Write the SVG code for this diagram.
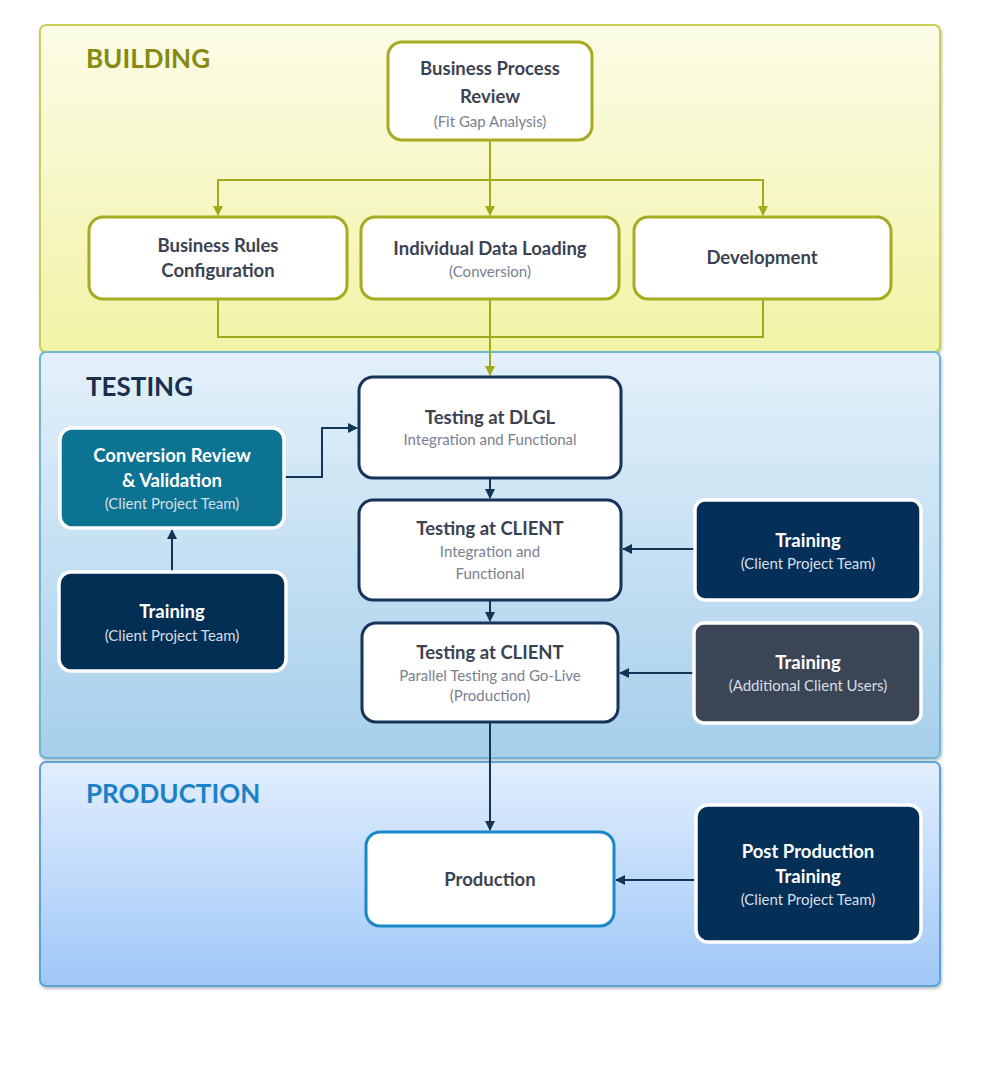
<svg xmlns="http://www.w3.org/2000/svg" width="1000" height="1070" viewBox="0 0 1000 1070">
<defs>
<linearGradient id="gB" x1="0" y1="0" x2="0" y2="1"><stop offset="0" stop-color="#fbfce6"/><stop offset="1" stop-color="#f1f3a6"/></linearGradient>
<linearGradient id="gT" x1="0" y1="0" x2="0" y2="1"><stop offset="0" stop-color="#e4f1fa"/><stop offset="1" stop-color="#a6cfeb"/></linearGradient>
<linearGradient id="gP" x1="0" y1="0" x2="0" y2="1"><stop offset="0" stop-color="#e2eefe"/><stop offset="1" stop-color="#9fc7f7"/></linearGradient>
<marker id="aO" viewBox="0 0 10 10" refX="9" refY="5" markerWidth="5" markerHeight="5" orient="auto"><path d="M0,0 L10,5 L0,10 z" fill="#a4a91c"/></marker>
<marker id="aN" viewBox="0 0 10 10" refX="9" refY="5" markerWidth="5" markerHeight="5" orient="auto"><path d="M0,0 L10,5 L0,10 z" fill="#123456"/></marker>
<filter id="sh" x="-5%" y="-5%" width="110%" height="115%"><feDropShadow dx="1" dy="2" stdDeviation="1.5" flood-color="#000" flood-opacity="0.25"/></filter>
</defs>
<style>
text{font-family:Lato,"Liberation Sans",sans-serif;text-anchor:middle}
.ttl{font-size:18.5px;font-weight:bold;fill:#3b4352}
.sub{font-size:15px;fill:#7a8090}
.wt{font-size:18.5px;font-weight:bold;fill:#ffffff}
.ws{font-size:15px;fill:#d8dfe8}
.hd{font-size:26px;font-weight:bold;text-anchor:start}
.nO{fill:#ffffff;stroke:#a6ab1f;stroke-width:3}
.nN{fill:#ffffff;stroke:#17335a;stroke-width:3}
.nD{stroke:#ffffff;stroke-width:3.5}
.cO{fill:none;stroke:#a4a91c;stroke-width:2}
.cN{fill:none;stroke:#123456;stroke-width:2}
</style>
<rect width="1000" height="1070" fill="#ffffff"/>
<g id="panels">
<rect x="40" y="25" width="900" height="327" rx="6" fill="url(#gB)" stroke="#c9cd5a" stroke-width="2" filter="url(#sh)"/>
<rect x="40" y="352" width="900" height="406" rx="6" fill="url(#gT)" stroke="#6fb4d8" stroke-width="2" filter="url(#sh)"/>
<rect x="40" y="762" width="900" height="224" rx="6" fill="url(#gP)" stroke="#5aa2d8" stroke-width="2" filter="url(#sh)"/>
<text class="hd" x="86" y="68" fill="#858a12">BUILDING</text>
<text class="hd" x="86" y="396" fill="#19304f">TESTING</text>
<text class="hd" x="86" y="803" fill="#1c81c7">PRODUCTION</text>
</g>
<g id="connectors">
<path class="cO" d="M490,140 V215" marker-end="url(#aO)"/>
<path class="cO" d="M218,215 V180 H763 V215" marker-end="url(#aO)"/>
<path class="cO" d="M218,180 V215" marker-end="url(#aO)"/>
<path class="cO" d="M218,299 V337 H763 V299"/>
<path class="cO" d="M490,299 V375" marker-end="url(#aO)"/>
<path class="cN" d="M284,477 H322 V428 H357" marker-end="url(#aN)"/>
<path class="cN" d="M172,572 V530" marker-end="url(#aN)"/>
<path class="cN" d="M490,478 V498" marker-end="url(#aN)"/>
<path class="cN" d="M490,600 V621" marker-end="url(#aN)"/>
<path class="cN" d="M695,549 H623" marker-end="url(#aN)"/>
<path class="cN" d="M694,673 H620" marker-end="url(#aN)"/>
<path class="cN" d="M490,722 V830" marker-end="url(#aN)"/>
<path class="cN" d="M696,880 H616" marker-end="url(#aN)"/>
</g>
<g id="bpr">
<rect class="nO" x="388" y="42" width="204" height="98" rx="14"/>
<text class="ttl" x="490" y="75">Business Process</text>
<text class="ttl" x="490" y="103">Review</text>
<text class="sub" x="490" y="127">(Fit Gap Analysis)</text>
</g>
<g id="brc">
<rect class="nO" x="89" y="217" width="258" height="82" rx="14"/>
<text class="ttl" x="218" y="252">Business Rules</text>
<text class="ttl" x="218" y="277">Configuration</text>
</g>
<g id="idl">
<rect class="nO" x="361" y="217" width="258" height="82" rx="14"/>
<text class="ttl" x="490" y="255">Individual  Data Loading</text>
<text class="sub" x="490" y="277">(Conversion)</text>
</g>
<g id="dev">
<rect class="nO" x="634" y="217" width="257" height="82" rx="14"/>
<text class="ttl" x="762" y="264">Development</text>
</g>
<g id="dlgl">
<rect class="nN" x="359" y="377" width="262" height="101" rx="14"/>
<text class="ttl" x="490" y="424">Testing at DLGL</text>
<text class="sub" x="490" y="445">Integration and Functional</text>
</g>
<g id="client1">
<rect class="nN" x="359" y="500" width="262" height="100" rx="14"/>
<text class="ttl" x="490" y="535">Testing at CLIENT</text>
<text class="sub" x="490" y="557">Integration and</text>
<text class="sub" x="490" y="579">Functional</text>
</g>
<g id="client2">
<rect class="nN" x="362" y="623" width="256" height="99" rx="14"/>
<text class="ttl" x="490" y="659">Testing at CLIENT</text>
<text class="sub" x="490" y="681">Parallel Testing and Go-Live</text>
<text class="sub" x="490" y="701">(Production)</text>
</g>
<g id="crv">
<rect class="nD" x="60" y="428" width="224" height="100" rx="12" fill="#0c7393"/>
<text class="wt" x="172" y="462">Conversion Review</text>
<text class="wt" x="172" y="487">&amp; Validation</text>
<text class="ws" x="172" y="509">(Client Project Team)</text>
</g>
<g id="trainL">
<rect class="nD" x="59" y="572" width="227" height="99" rx="12" fill="#042f55"/>
<text class="wt" x="172" y="618">Training</text>
<text class="ws" x="172" y="641">(Client Project Team)</text>
</g>
<g id="trainR1">
<rect class="nD" x="695" y="500" width="226" height="100" rx="10" fill="#042f59"/>
<text class="wt" x="808" y="547">Training</text>
<text class="ws" x="808" y="569">(Client Project Team)</text>
</g>
<g id="trainR2">
<rect class="nD" x="694" y="623" width="227" height="100" rx="10" fill="#3a4556"/>
<text class="wt" x="808" y="669">Training</text>
<text class="ws" x="808" y="691">(Additional Client Users)</text>
</g>
<g id="prod">
<rect x="366" y="832" width="248" height="94" rx="14" fill="#ffffff" stroke="#1a88c8" stroke-width="3"/>
<text class="ttl" x="490" y="886">Production</text>
</g>
<g id="ppt">
<rect class="nD" x="696" y="805" width="225" height="137" rx="12" fill="#042f57"/>
<text class="wt" x="808" y="858">Post Production</text>
<text class="wt" x="808" y="883">Training</text>
<text class="ws" x="808" y="905">(Client Project Team)</text>
</g>
</svg>
